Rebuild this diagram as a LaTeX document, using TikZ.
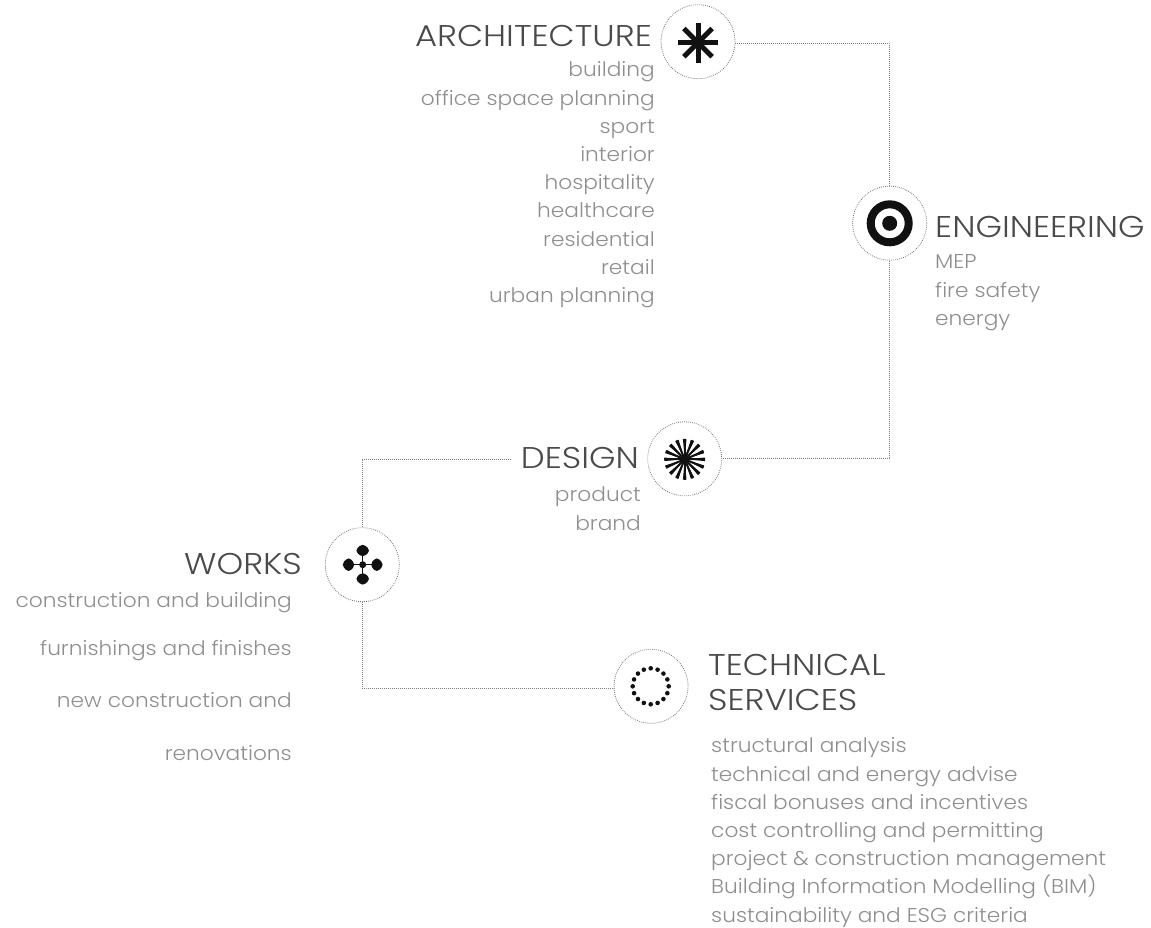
\documentclass[tikz,border=0pt]{standalone}
\usepackage{fontspec}
\setmainfont{Poppins Light}
\newfontfamily\titlefont[FakeStretch=1.13]{Poppins Light}
\newfontfamily\listfont[FakeStretch=1.085]{Poppins Light}
\definecolor{titlegray}{HTML}{4A4A4A}
\definecolor{listgray}{HTML}{8F8F8F}
\definecolor{inkblack}{HTML}{111111}
\tikzset{
  ring/.style={circle, draw=black!55, line width=0.8pt, dash pattern=on 0.8pt off 1.2pt, minimum size=74pt, inner sep=0pt},
  link/.style={draw=black!50, line width=0.8pt, dash pattern=on 0.8pt off 1.2pt},
  title/.style={inner sep=0pt, text=titlegray, font=\titlefont\fontsize{30}{35}\selectfont},
  listing/.style={inner sep=0pt, text=listgray, font=\listfont\fontsize{20}{28.2}\selectfont},
}
\begin{document}
\begin{tikzpicture}[x=1pt, y=-1pt]
  \useasboundingbox (0,0) rectangle (1151,928);

  % Rings
  \node[ring] (arch) at (698,41.7) {};
  \node[ring] (eng) at (889.7,223.2) {};
  \node[ring] (design) at (684.7,458.8) {};
  \node[ring] (works) at (362.3,564.7) {};
  \node[ring] (tech) at (651,686.3) {};
  \coordinate (designend) at (511,459);

  % Connectors
  \draw[link] ([yshift=-1.5pt]arch.east) -| (eng.north);
  \draw[link] (eng.south) |- (design.east);
  \draw[link] (designend) -| (works.north);
  \draw[link] (works.south) |- ([yshift=-2pt]tech.west);

  % Architecture
  \foreach \a in {0,45,...,315}
    \draw[inkblack, line width=5pt] (698,42.6) -- ++(\a:20);
  \node[title, anchor=base east] (archtitle) at (652,47) {ARCHITECTURE};
  \node[listing, anchor=north east, align=right] (archlist) at (655,57) {\strut building\\office space planning\\sport\\interior\\hospitality\\healthcare\\residential\\retail\\urban planning};

  % Engineering
  \draw[inkblack, line width=8pt] (889.7,223.3) circle (19);
  \fill[inkblack] (889.7,223.3) circle (7.5);
  \node[title, anchor=base west] (engtitle) at (935,237) {ENGINEERING};
  \node[listing, anchor=north west, align=left] (englist) at (935,249) {\strut MEP\\fire safety\\energy};

  % Design
  \foreach \a in {0,22.5,...,337.5}
    \fill[inkblack] (684.7,459.3) -- ([shift={(\a-5:20.5)}]684.7,459.3) -- ([shift={(\a+5:20.5)}]684.7,459.3) -- cycle;
  \foreach \a in {0,22.5,...,337.5}
    \draw[inkblack, line width=2pt] (684.7,459.3) -- ++(\a:20.5);
  \node[title, anchor=base east] (designtitle) at (639,468) {DESIGN};
  \node[listing, anchor=north east, align=right] (designlist) at (641,482) {\strut product\\brand};

  % Works
  \draw[inkblack, line width=1pt] (348.7,564.7) -- (376.7,564.7);
  \draw[inkblack, line width=1pt] (362.7,550.7) -- (362.7,578.7);
  \fill[inkblack] (362.7,564.7) circle (3.5);
  \foreach \a in {0,90,180,270}
    \fill[inkblack, rotate around={\a:(362.7,564.7)}, rounded corners=4pt] (369.7,564.7) -- (376.7,556.7) -- (384.2,564.7) -- (376.7,572.7) -- cycle;
  \node[title, anchor=base east] (workstitle) at (302,574) {WORKS};
  \node[listing, anchor=north east, align=right] (workslist) at (292,588) {\strut construction and building\\[19pt]furnishings and finishes\\[24pt]new construction and\\[25pt]renovations};

  % Technical services
  \foreach \a in {0,22.5,...,337.5}
    \fill[inkblack] ([shift={(\a:18)}]650.7,686.3) circle (2.3);
  \node[title, anchor=north west, align=left] (techtitle) at (708,651) {\strut TECHNICAL\\SERVICES};
  \node[listing, anchor=north west, align=left] (techlist) at (711,733) {\strut structural analysis\\technical and energy advise\\fiscal bonuses and incentives\\cost controlling and permitting\\project \& construction management\\Building Information Modelling (BIM)\\sustainability and ESG criteria};
\end{tikzpicture}
\end{document}
